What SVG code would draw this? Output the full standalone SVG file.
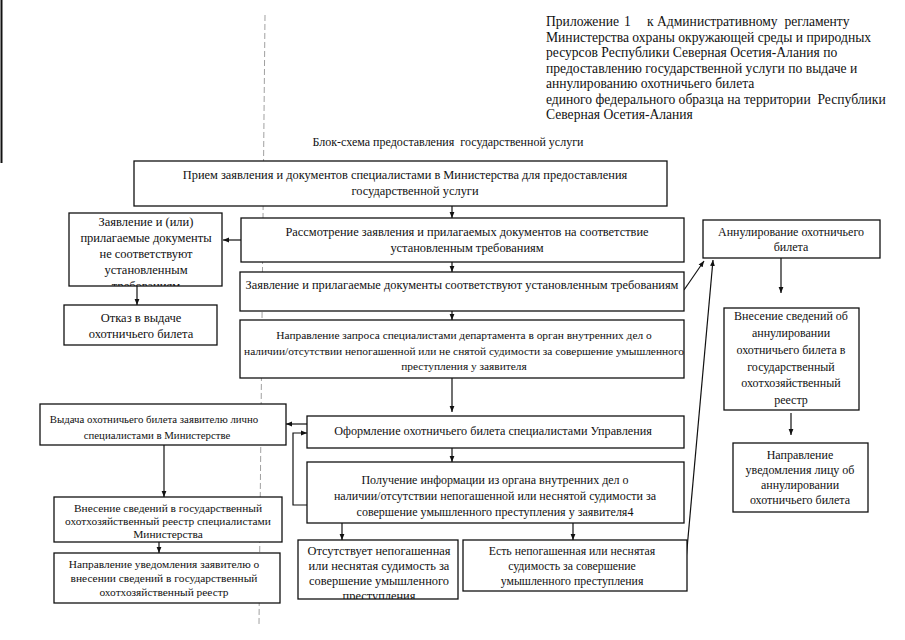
<svg xmlns="http://www.w3.org/2000/svg" width="905" height="640" viewBox="0 0 905 640" font-family="'Liberation Serif', 'Times New Roman', serif">
<style>
text{font-family:'Liberation Serif','Times New Roman',serif;fill:#111}
.h{font-size:13.6px}
.t{font-size:12.4px;text-anchor:middle}
.s{font-size:11.4px;text-anchor:middle}
.b{fill:#fff;stroke:#111;stroke-width:1.3}
.c{fill:none;stroke:#111;stroke-width:1.2}
</style>
<defs>
<marker id="a" viewBox="0 0 10 10" refX="10" refY="5" markerWidth="6" markerHeight="6" orient="auto" markerUnits="userSpaceOnUse"><path d="M0,1 L10,5 L0,9 z" fill="#111"/></marker>
<clipPath id="k1"><rect x="69" y="213" width="153" height="73"/></clipPath>
<clipPath id="k2"><rect x="298" y="540" width="160" height="59"/></clipPath>
</defs>
<rect width="905" height="640" fill="#fff"/>
<line x1="1.5" y1="0" x2="1.5" y2="163" stroke="#111" stroke-width="2"/>
<line x1="265" y1="15" x2="259" y2="625" stroke="#888" stroke-width="0.8" stroke-dasharray="6,3"/>
<g id="header" class="h">
<text x="546" y="26"><tspan>Приложение</tspan><tspan x="624">1</tspan><tspan x="647" xml:space="preserve">к Административному  регламенту</tspan></text>
<text x="546" y="42">Министерства охраны окружающей среды и природных</text>
<text x="546" y="57">ресурсов Республики Северная Осетия-Алания по</text>
<text x="546" y="73">предоставлению государственной услуги по выдаче и</text>
<text x="546" y="88">аннулированию охотничьего билета</text>
<text x="546" y="104" xml:space="preserve">единого федерального образца на территории  Республики</text>
<text x="546" y="119">Северная Осетия-Алания</text>
</g>
<text id="title" x="448" y="146" class="t" style="font-size:12px" xml:space="preserve">Блок-схема предоставления  государственной услуги</text>
<g id="connectors">
<line class="c" x1="452" y1="206" x2="452" y2="218" marker-end="url(#a)"/>
<line class="c" x1="241" y1="240" x2="223" y2="240" marker-end="url(#a)"/>
<line class="c" x1="137" y1="286" x2="137" y2="305" marker-end="url(#a)"/>
<line class="c" x1="452" y1="262" x2="452" y2="272" marker-end="url(#a)"/>
<line class="c" x1="452" y1="311" x2="452" y2="320" marker-end="url(#a)"/>
<line class="c" x1="452" y1="378" x2="452" y2="412" marker-end="url(#a)"/>
<line class="c" x1="307" y1="424" x2="286" y2="424" marker-end="url(#a)"/>
<polyline class="c" points="307,505 293,505 293,433 307,433" marker-end="url(#a)"/>
<line class="c" x1="452" y1="448" x2="452" y2="462" marker-end="url(#a)"/>
<line class="c" x1="164" y1="445" x2="164" y2="497" marker-end="url(#a)"/>
<line class="c" x1="159" y1="542" x2="159" y2="553" marker-end="url(#a)"/>
<line class="c" x1="342" y1="523" x2="342" y2="540" marker-end="url(#a)"/>
<line class="c" x1="573" y1="523" x2="573" y2="540" marker-end="url(#a)"/>
<line class="c" x1="684" y1="290" x2="704" y2="261" marker-end="url(#a)"/>
<line class="c" x1="686" y1="560" x2="713" y2="260" marker-end="url(#a)"/>
<line class="c" x1="781" y1="258" x2="781" y2="293" marker-end="url(#a)"/>
<line class="c" x1="791" y1="413" x2="791" y2="435" marker-end="url(#a)"/>
</g>
<g id="n1"><rect class="b" x="134" y="161" width="533" height="45"/>
<text class="t" x="405" y="179">Прием заявления и документов специалистами в Министерства для предоставления</text>
<text class="t" x="415" y="195">государственной услуги</text></g>
<g id="n2"><rect class="b" x="241" y="218" width="443" height="44"/>
<text class="t" x="467" y="236">Рассмотрение заявления и прилагаемых документов на соответствие</text>
<text class="t" x="467" y="252">установленным требованиям</text></g>
<g id="n3"><rect class="b" x="69" y="213" width="153" height="73"/>
<g clip-path="url(#k1)" class="t" style="font-size:12.5px">
<text x="146" y="226">Заявление и (или)</text>
<text x="146" y="242">прилагаемые документы</text>
<text x="146" y="258">не соответствуют</text>
<text x="146" y="274">установленным</text>
<text x="146" y="290">требованиям</text></g></g>
<g id="n4"><rect class="b" x="64" y="305" width="153" height="40"/>
<text class="t" x="141" y="322" style="font-size:12.5px">Отказ в выдаче</text>
<text class="t" x="141" y="338" style="font-size:12.5px">охотничьего билета</text></g>
<g id="n5"><rect class="b" x="240" y="272" width="444" height="39"/>
<text class="t" x="462" y="289">Заявление и прилагаемые документы соответствуют установленным требованиям</text></g>
<g id="n6"><rect class="b" x="240" y="320" width="444" height="58"/>
<text class="s" x="464" y="339">Направление запроса специалистами департамента в орган внутренних дел о</text>
<text class="s" x="464" y="355">наличии/отсутствии непогашенной или не снятой судимости за совершение умышленного</text>
<text class="s" x="464" y="370">преступления у заявителя</text></g>
<g id="n7"><rect class="b" x="40" y="404" width="246" height="41"/>
<text class="s" x="154" y="423" style="font-size:10.8px">Выдача охотничьего билета заявителю лично</text>
<text class="s" x="157" y="439" style="font-size:10.8px">специалистами в Министерстве</text></g>
<g id="n8"><rect class="b" x="307" y="416" width="377" height="32"/>
<text class="t" x="493" y="435" style="font-size:12.2px">Оформление охотничьего билета специалистами Управления</text></g>
<g id="n9"><rect class="b" x="307" y="462" width="377" height="61"/>
<text class="t" x="495" y="484" style="font-size:12px">Получение информации из органа внутренних дел о</text>
<text class="t" x="495" y="500" style="font-size:12px">наличии/отсутствии непогашенной или неснятой судимости за</text>
<text class="t" x="495" y="516" style="font-size:12px">совершение умышленного преступления у заявителя4</text></g>
<g id="n10"><rect class="b" x="54" y="497" width="228" height="45"/>
<text class="s" x="168" y="512">Внесение сведений в государственный</text>
<text class="s" x="168" y="525">охотхозяйственный реестр специалистами</text>
<text class="s" x="168" y="538">Министерства</text></g>
<g id="n11"><rect class="b" x="54" y="553" width="226" height="50"/>
<text class="s" x="164" y="568">Направление уведомления заявителю о</text>
<text class="s" x="164" y="582">внесении сведений в государственный</text>
<text class="s" x="164" y="596">охотхозяйственный реестр</text></g>
<g id="n12"><rect class="b" x="298" y="540" width="160" height="59"/>
<g clip-path="url(#k2)" class="t">
<text x="379" y="555">Отсутствует непогашенная</text>
<text x="379" y="570">или неснятая судимость за</text>
<text x="379" y="585">совершение умышленного</text>
<text x="379" y="600">преступления</text></g></g>
<g id="n13"><rect class="b" x="463" y="540" width="224" height="51"/>
<text class="t" x="572" y="555" style="font-size:11.8px">Есть непогашенная или неснятая</text>
<text class="t" x="572" y="570" style="font-size:11.8px">судимость за совершение</text>
<text class="t" x="572" y="585" style="font-size:11.8px">умышленного преступления</text></g>
<g id="n14"><rect class="b" x="703" y="220" width="177" height="38"/>
<text class="s" x="791" y="236" style="font-size:12px">Аннулирование охотничьего</text>
<text class="s" x="791" y="251" style="font-size:12px">билета</text></g>
<g id="n15" style="font-size:12px"><rect class="b" x="724" y="308" width="135" height="102"/>
<text class="s" x="791" y="320" style="font-size:12px">Внесение сведений об</text>
<text class="s" x="791" y="337" style="font-size:12px">аннулировании</text>
<text class="s" x="791" y="354" style="font-size:12px">охотничьего билета в</text>
<text class="s" x="791" y="371" style="font-size:12px">государственный</text>
<text class="s" x="791" y="387" style="font-size:12px">охотхозяйственный</text>
<text class="s" x="791" y="404" style="font-size:12px">реестр</text></g>
<g id="n16"><rect class="b" x="733" y="443" width="135" height="69"/>
<text class="s" x="800" y="459" style="font-size:12px">Направление</text>
<text class="s" x="800" y="474" style="font-size:12px">уведомления лицу об</text>
<text class="s" x="800" y="489" style="font-size:12px">аннулировании</text>
<text class="s" x="800" y="504" style="font-size:12px">охотничьего билета</text></g>
</svg>
